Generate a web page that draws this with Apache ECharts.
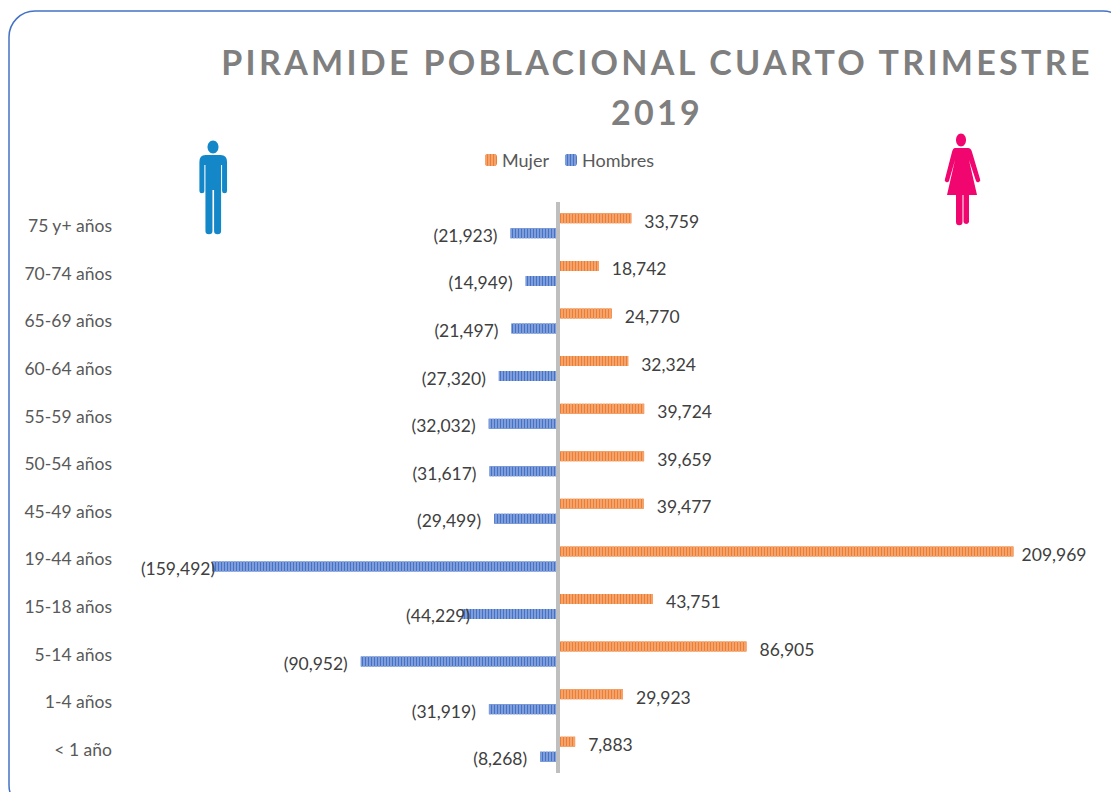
<!DOCTYPE html>
<html>
<head>
<meta charset="utf-8">
<title>Piramide poblacional</title>
<style>
  html, body { margin: 0; padding: 0; background: #fff; }
  #chart { width: 1111px; height: 792px; }
  /* echarts has no letter spacing option, the title is the only 34px text */
  #chart text[style*="34px"] { letter-spacing: 3.3px; }
</style>
<script src="https://cdn.jsdelivr.net/npm/echarts@6/dist/echarts.min.js"></script>
</head>
<body>
<div id="chart"></div>
<script>
  const titleText = 'PIRAMIDE POBLACIONAL CUARTO TRIMESTRE\n2019'
  const categories = ['75 y+ años', '70-74 años', '65-69 años', '60-64 años', '55-59 años', '50-54 años',
    '45-49 años', '19-44 años', '15-18 años', '5-14 años', '1-4 años', '< 1 año']
  const mujer = [33759, 18742, 24770, 32324, 39724, 39659, 39477, 209969, 43751, 86905, 29923, 7883]
  const hombres = [-21923, -14949, -21497, -27320, -32032, -31617, -29499, -159492, -44229, -90952, -31919, -8268]

  const fmt = (v) => Math.abs(v).toLocaleString('en-US')
  const manPath = 'M204 155 H218 Q224 155 224 162 V191 A2.3 2.3 0 0 1 219.4 191 V165 H218.5 V231 A3.2 3.2 0 0 1 212 231 V190 H210.5 V231 A3.2 3.2 0 0 1 204 231 V165 H203 V191 A2.3 2.3 0 0 1 198.4 191 V162 Q198.4 155 204 155 Z'
  const womanPath = 'M955 148 H968 Q971 148 972 152 L980 179 A2.2 2.2 0 0 1 976 181 L969 160 L977 195 H969 V222 A2.9 2.9 0 0 1 963.5 222 V195 H962.5 V222 A2.9 2.9 0 0 1 956 222 V195 H947 L955 160 L949 181 A2.2 2.2 0 0 1 945 179 L952 152 Q953 148 955 148 Z'

  echarts.graphic.registerShape('manIcon', echarts.graphic.extendPath(manPath, {}))
  echarts.graphic.registerShape('womanIcon', echarts.graphic.extendPath(womanPath, {}))

  const stripes = (color) => ({
    color: color,
    symbol: 'rect',
    symbolSize: 1,
    dashArrayX: [2, 1],
    dashArrayY: [1, 0]
  })

  const chart = echarts.init(document.getElementById('chart'), null, { renderer: 'svg' })
  chart.setOption({
    animation: false,
    textStyle: { fontFamily: 'Lato' },
    title: {
      text: titleText,
      left: 652,
      top: 31,
      textAlign: 'center',
      textStyle: { fontFamily: 'Lato', fontSize: 34, fontWeight: 'bold', color: '#7f7f7f', lineHeight: 50 }
    },
    legend: {
      top: 146,
      left: 480,
      itemWidth: 12,
      itemHeight: 12,
      itemGap: 16,
      textStyle: { fontSize: 18, color: '#595959' },
      data: ['Mujer', 'Hombres']
    },
    grid: { left: 211, right: 93, top: 202, bottom: 19 },
    xAxis: { type: 'value', min: -160000, max: 212000, show: false },
    yAxis: {
      type: 'category',
      inverse: true,
      data: categories,
      axisLine: { show: false, onZero: false },
      axisTick: { show: false },
      axisLabel: { margin: 99, fontSize: 17.5, color: '#595959' }
    },
    series: [
      {
        name: 'Mujer',
        type: 'bar',
        data: mujer.map((v) => ({
          value: v,
          label: { distance: v > 200000 ? 8 : 13 }
        })),
        barWidth: 10,
        barGap: '50%',
        itemStyle: { color: '#ed7d31', decal: stripes('#f4a36c') },
        label: {
          show: true,
          position: 'right',
          offset: [0, 3],
          fontSize: 17.5,
          color: '#404040',
          formatter: (p) => fmt(p.value)
        },
        markLine: {
          silent: true,
          symbol: 'none',
          label: { show: false },
          lineStyle: { color: '#bfbfbf', width: 4, type: 'solid' },
          data: [{ xAxis: 0 }]
        }
      },
      {
        name: 'Hombres',
        type: 'bar',
        data: hombres.map((v) => ({
          value: v,
          label: { distance: v < -150000 ? -3 : (v === -44229 ? -8 : 13) }
        })),
        barWidth: 10,
        itemStyle: { color: '#4472c4', decal: stripes('#7f9ddb') },
        label: {
          show: true,
          position: 'left',
          offset: [0, 2],
          fontSize: 17.5,
          color: '#404040',
          formatter: (p) => '(' + fmt(p.value) + ')'
        }
      }
    ],
    graphic: [
      {
        type: 'rect',
        silent: true,
        z: -10,
        shape: { x: 9, y: 11, width: 1120, height: 800, r: 26 },
        style: { fill: 'none', stroke: '#4472c4', lineWidth: 1.5 }
      },
      { type: 'ellipse', silent: true, shape: { cx: 213, cy: 147, rx: 5.5, ry: 6.5 }, style: { fill: '#1487c9' } },
      { type: 'manIcon', silent: true, x: 2, originX: 211, scaleX: 1.08, style: { fill: '#1487c9' } },
      { type: 'ellipse', silent: true, shape: { cx: 961, cy: 140, rx: 5, ry: 6.5 }, style: { fill: '#f0066e' } },
      { type: 'womanIcon', silent: true, style: { fill: '#f0066e' } }
    ]
  })
</script>
</body>
</html>
